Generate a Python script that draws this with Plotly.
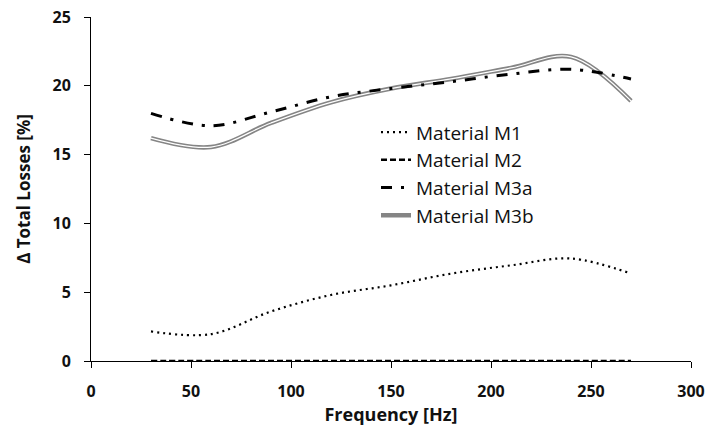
import plotly.graph_objects as go

# Frequency sweep (Hz) and change in total losses (%) per material
freq_hz = [30, 60, 90, 120, 150, 180, 210, 240, 270]
m1 = [2.15, 1.95, 3.6, 4.8, 5.5, 6.35, 6.95, 7.45, 6.35]
m2 = [0, 0, 0, 0, 0, 0, 0, 0, 0]
m3a = [18.0, 17.1, 18.1, 19.2, 19.8, 20.3, 20.85, 21.2, 20.5]
m3b = [16.2, 15.55, 17.3, 18.8, 19.8, 20.5, 21.3, 22.1, 18.9]

x_ticks = [0, 50, 100, 150, 200, 250, 300]
y_ticks = [0, 5, 10, 15, 20, 25]

tick_font = dict(family="Open Sans", size=16, color="#111111")

fig = go.Figure()

# M3b: grey double line (grey stroke with a thin white core)
fig.add_trace(go.Scatter(
    x=freq_hz, y=m3b, mode="lines", name="Material M3b",
    line=dict(color="#858585", width=4.5, shape="spline", smoothing=1),
    legendrank=4,
))
fig.add_trace(go.Scatter(
    x=freq_hz, y=m3b, mode="lines", name="Material M3b",
    line=dict(color="white", width=1.2, shape="spline", smoothing=1),
    showlegend=False, hoverinfo="skip",
))
fig.add_trace(go.Scatter(
    x=freq_hz, y=m1, mode="lines", name="Material M1",
    line=dict(color="black", width=2.2, dash="2px,4px", shape="spline", smoothing=1),
    legendrank=1,
))
fig.add_trace(go.Scatter(
    x=freq_hz, y=m2, mode="lines", name="Material M2",
    line=dict(color="black", width=2.5, dash="6px,3px", shape="spline", smoothing=1),
    legendrank=2, cliponaxis=False,
))
fig.add_trace(go.Scatter(
    x=freq_hz, y=m3a, mode="lines", name="Material M3a",
    line=dict(color="black", width=3, dash="11px,9px,3px,9px", shape="spline", smoothing=1),
    legendrank=3,
))

fig.update_layout(
    width=708, height=443,
    margin=dict(l=91, r=17, t=17, b=82, autoexpand=False),
    paper_bgcolor="white", plot_bgcolor="white",
    showlegend=True,
    legend=dict(
        x=0.475, y=0.72, xanchor="left", yanchor="top",
        font=dict(family="Open Sans", size=19, color="#111111"),
        bgcolor="rgba(0,0,0,0)", itemwidth=30, tracegroupgap=0,
    ),
)

fig.update_xaxes(
    range=[0, 300], tickvals=x_ticks, ticktext=[f"<b>{v}</b>" for v in x_ticks],
    showline=True, linecolor="black", linewidth=1, mirror=False,
    ticks="outside", ticklen=6, tickcolor="black", tickwidth=1,
    showgrid=False, zeroline=False, automargin=False,
    tickfont=tick_font, ticklabelstandoff=10,
    title=dict(text="<b>Frequency [Hz]</b>",
               font=dict(family="Open Sans", size=18, color="#111111"), standoff=3),
)
fig.update_yaxes(
    range=[0, 25], tickvals=y_ticks, ticktext=[f"<b>{v}</b>" for v in y_ticks],
    showline=True, linecolor="black", linewidth=1, mirror=False,
    ticks="outside", ticklen=6, tickcolor="black", tickwidth=1,
    showgrid=False, zeroline=False, automargin=False,
    tickfont=tick_font, ticklabelstandoff=10,
    title=dict(text="<b>Δ Total Losses [%]</b>",
               font=dict(family="Open Sans", size=17, color="#111111"), standoff=17),
)

fig.write_html("out.html")
